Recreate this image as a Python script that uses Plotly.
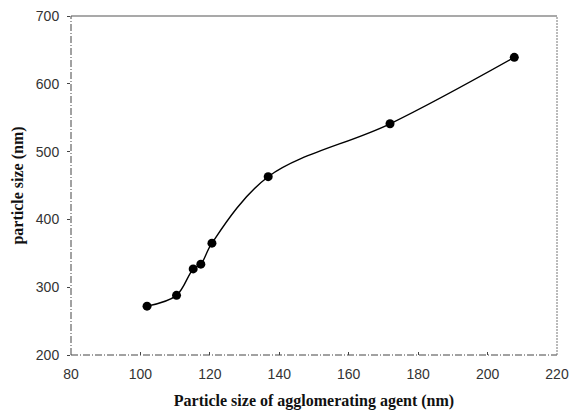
import plotly.graph_objects as go

# Agglomerating agent particle size vs resulting latex particle size
agent_size_nm = [101.9, 110.4, 115.2, 117.4, 120.6, 136.8, 171.9, 207.7]
particle_size_nm = [272, 288, 327, 334, 365, 463, 541, 639]

x_ticks = [80, 100, 120, 140, 160, 180, 200, 220]
y_ticks = [200, 300, 400, 500, 600, 700]

tick_font = dict(family="Liberation Sans, Arial, sans-serif", size=14, color="#333333")
title_font = dict(family="Liberation Serif, Times New Roman, serif", size=16, color="#111111")

fig = go.Figure()
fig.add_trace(go.Scatter(
    x=agent_size_nm,
    y=particle_size_nm,
    mode="lines+markers",
    line=dict(color="black", width=1.4, shape="spline", smoothing=1.0),
    marker=dict(color="black", size=9),
    showlegend=False,
))

# Frame: dash-dot left/bottom, solid top, dotted right
dashdot = "7px,2px,1px,2px"
frame = [
    dict(x0=0, x1=0, y0=0, y1=1, line=dict(color="#444444", width=1, dash=dashdot)),
    dict(x0=0, x1=1, y0=0, y1=0, line=dict(color="#444444", width=1, dash=dashdot)),
    dict(x0=0, x1=1, y0=1, y1=1, line=dict(color="#555555", width=1.2)),
    dict(x0=1, x1=1, y0=0, y1=1, line=dict(color="#777777", width=1, dash="2px,1px")),
]
for s in frame:
    fig.add_shape(type="line", xref="paper", yref="paper", layer="below", **s)

fig.update_layout(
    width=569,
    height=410,
    margin=dict(l=71, r=12, t=16, b=55),
    paper_bgcolor="white",
    plot_bgcolor="white",
    xaxis=dict(
        range=[80, 220],
        tickvals=x_ticks,
        ticktext=[str(v) for v in x_ticks],
        ticks="inside",
        ticklen=3,
        tickcolor="#444444",
        ticklabelstandoff=9,
        automargin=False,
        showgrid=False,
        zeroline=False,
        showline=False,
        tickfont=tick_font,
        title=dict(text="<b>Particle size of agglomerating agent (nm)</b>",
                   font=title_font, standoff=16),
    ),
    yaxis=dict(
        range=[200, 700],
        tickvals=y_ticks,
        ticktext=[str(v) for v in y_ticks],
        ticks="outside",
        ticklen=3,
        tickcolor="#444444",
        ticklabelstandoff=5,
        automargin=False,
        showgrid=False,
        zeroline=False,
        showline=False,
        tickfont=tick_font,
        title=dict(text="<b>particle size (nm)</b>", font=title_font, standoff=8),
    ),
)

fig.write_html("out.html")
